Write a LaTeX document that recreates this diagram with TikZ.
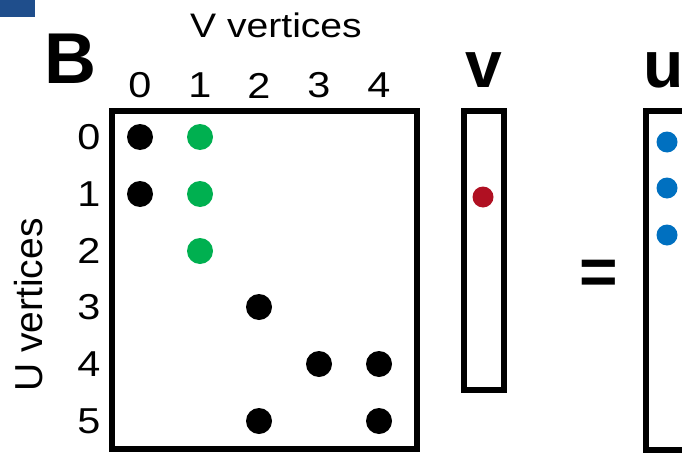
\documentclass[tikz,border=0pt]{standalone}
\usepackage{fontspec}
\setmainfont{Liberation Sans}
\newfontfamily\lebarfont{Liberation Sans}[FakeStretch=1.15]
\usetikzlibrary{shapes.geometric}

\definecolor{hijau}{RGB}{0,176,80}
\definecolor{merah}{RGB}{176,16,34}
\definecolor{biru}{RGB}{0,112,192}
\definecolor{birutua}{RGB}{31,78,140}

\tikzstyle{judul} = [inner sep=0pt, font=\lebarfont\fontsize{34}{34}\selectfont]
\tikzstyle{judulU} = [inner sep=0pt, rotate=90, font=\fontsize{39}{39}\selectfont]
\tikzstyle{indeks} = [inner sep=0pt, font=\lebarfont\fontsize{36}{36}\selectfont]
\tikzstyle{huruf} = [inner sep=0pt, font=\bfseries\fontsize{66}{66}\selectfont]
\tikzstyle{titik} = [circle, inner sep=0pt, minimum size=26pt, fill=black]
\tikzstyle{titikkecil} = [circle, inner sep=0pt, minimum size=21pt]
\tikzstyle{kotak} = [rectangle, draw=black, line width=6pt, inner sep=0pt]

\begin{document}
\begin{tikzpicture}[x=1pt, y=-1pt]
			\useasboundingbox (0,0) rectangle (682,452);
			\clip (0,0) rectangle (682,452);
			
			% Sisa panel sebelumnya
			\fill [birutua] (0,0) rectangle (35,17);
			
			% Judul panel
			\node (panel) [huruf, font=\bfseries\fontsize{72}{72}\selectfont] at (70.5,59) {B};
			\node (vjudul) [judul] at (276,25) {V vertices};
			\node (ujudul) [judulU] at (29,305) {U vertices};
			
			% Kotak matriks dan vektor
			\node (matriks) [kotak, minimum width=305.5pt, minimum height=338.5pt] at (264.3,279.8) {};
			\node (vkotak) [kotak, minimum width=40.3pt, minimum height=278.7pt] at (483.8,250.3) {};
			\node (ukotak) [kotak, minimum width=100pt, minimum height=339pt] at (696.3,280.5) {};
			
			% Label kolom
			\node (k0) [indeks] at (140,85.5) {0};
			\node (k1) [indeks] at (200,85.5) {1};
			\node (k2) [indeks] at (259,85.5) {2};
			\node (k3) [indeks] at (319,85.5) {3};
			\node (k4) [indeks] at (379,85.5) {4};
			
			% Label baris
			\node (b0) [indeks] at (89,137) {0};
			\node (b1) [indeks] at (89,194) {1};
			\node (b2) [indeks] at (89,251) {2};
			\node (b3) [indeks] at (89,307) {3};
			\node (b4) [indeks] at (89,364) {4};
			\node (b5) [indeks] at (89,421) {5};
			
			% Isi matriks
			\node (m00) [titik] at (140,137) {};
			\node (m01) [titik, fill=hijau] at (200,137) {};
			\node (m10) [titik] at (140,194) {};
			\node (m11) [titik, fill=hijau] at (200,194) {};
			\node (m21) [titik, fill=hijau] at (200,251) {};
			\node (m32) [titik] at (259,307) {};
			\node (m43) [titik] at (319,364) {};
			\node (m44) [titik] at (379,364) {};
			\node (m52) [titik] at (259,421) {};
			\node (m54) [titik] at (379,421) {};
			
			% Vektor v dan hasil u
			\node (vnama) [huruf] at (484,70.5) {v};
			\node (v1) [titikkecil, fill=merah] at (483,197) {};
			\node (sama) [huruf, anchor=base] at (599,294) {=};
			\node (unama) [huruf, anchor=west] at (643,70.5) {u};
			\node (u0) [titikkecil, fill=biru] at (667,142) {};
			\node (u1) [titikkecil, fill=biru] at (667,188) {};
			\node (u2) [titikkecil, fill=biru] at (667,235) {};
			
		\end{tikzpicture}
\end{document}
